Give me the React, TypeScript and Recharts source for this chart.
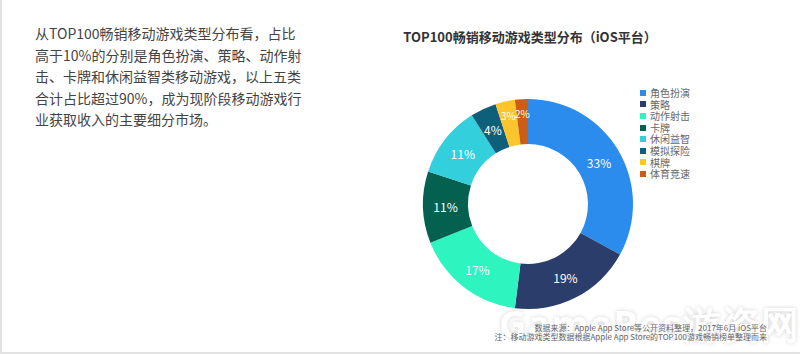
import React from 'react';
import { PieChart, Pie, Cell, Legend } from 'recharts';

const categories = ['角色扮演', '策略', '动作射击', '卡牌', '休闲益智', '模拟探险', '棋牌', '体育竞速'];
const shares = [33, 19, 17, 11, 11, 4, 3, 2];
const colors = ['#2b8ced', '#2b3e6b', '#2ef5c0', '#04614f', '#34cfdc', '#0e5f7a', '#fcc52e', '#cc5d16'];

const introLines = [
    '从TOP100畅销移动游戏类型分布看，占比',
    '高于10%的分别是角色扮演、策略、动作射',
    '击、卡牌和休闲益智类移动游戏，以上五类',
    '合计占比超过90%，成为现阶段移动游戏行',
    '业获取收入的主要细分市场。',
];

const sourceLines = [
    '数据来源：Apple App Store等公开资料整理，2017年6月 iOS平台',
    '注：移动游戏类型数据根据Apple App Store的TOP100游戏畅销榜单整理而来',
];

const data = categories.map((name, i) => ({ name, value: shares[i] }));

const FONT = '"Noto Sans CJK SC", "Noto Sans", sans-serif';
const RAD = Math.PI / 180;

const renderLabel = (props: any) => {
    const { cx, cy, midAngle, innerRadius, outerRadius, value } = props;
    const r = (innerRadius + outerRadius) / 2 + (value < 4 ? 8 : 0);
    const x = cx + r * Math.cos(-midAngle * RAD);
    const y = cy + r * Math.sin(-midAngle * RAD);
    return (
        <text
            x={x}
            y={y}
            fill="#ffffff"
            fontSize={value < 4 ? 10 : 12}
            textAnchor="middle"
            dominantBaseline="central"
            fontFamily={FONT}
        >
            {`${value}%`}
        </text>
    );
};

const renderLegend = () => (
    <div style={{ fontFamily: FONT, fontSize: 10, color: '#666' }}>
        {categories.map((c, i) => (
            <div key={c} style={{ display: 'flex', alignItems: 'center', height: 11.6, lineHeight: '11.6px' }}>
                <span style={{ width: 6, height: 6, background: colors[i], marginRight: 4, display: 'inline-block' }} />
                {c}
            </div>
        ))}
    </div>
);

export default function App() {
    return (
        <div
            style={{
                position: 'fixed',
                left: 0,
                top: 0,
                width: 800,
                height: 354,
                background: '#fff',
                boxSizing: 'border-box',
                borderLeft: '2px solid #e2e2e2',
                borderBottom: '2px solid #e2e2e2',
                fontFamily: FONT,
                overflow: 'hidden',
            }}
        >
            <div style={{ position: 'absolute', left: 33, top: 23, fontSize: 14, lineHeight: '21.5px', color: '#444' }}>
                {introLines.map((l) => (
                    <div key={l}>{l}</div>
                ))}
            </div>
            <div
                style={{
                    position: 'absolute',
                    left: 378,
                    width: 300,
                    top: 27,
                    textAlign: 'center',
                    fontSize: 13,
                    fontWeight: 'bold',
                    color: '#333',
                    whiteSpace: 'nowrap',
                }}
            >
                TOP100畅销移动游戏类型分布（iOS平台）
            </div>
            <div style={{ position: 'absolute', left: 0, top: 0 }}>
                <PieChart width={800} height={354}>
                    <Pie
                        data={data}
                        dataKey="value"
                        nameKey="name"
                        cx={521}
                        cy={199}
                        innerRadius={60}
                        outerRadius={105}
                        startAngle={90}
                        endAngle={-270}
                        stroke="none"
                        label={renderLabel}
                        labelLine={false}
                        isAnimationActive={false}
                    >
                        {data.map((d, i) => (
                            <Cell key={d.name} fill={colors[i]} />
                        ))}
                    </Pie>
                    <Legend
                        content={renderLegend}
                        layout="vertical"
                        wrapperStyle={{ position: 'absolute', left: 638, top: 87, width: 100 }}
                    />
                </PieChart>
            </div>
            <div
                style={{
                    position: 'absolute',
                    left: 497,
                    top: 303,
                    fontSize: 38,
                    lineHeight: '40px',
                    fontWeight: 'bold',
                    color: '#fff',
                    letterSpacing: 1,
                    textShadow: '0 0 4px rgba(0,0,0,0.18)',
                    whiteSpace: 'nowrap',
                    fontFamily: '"Open Sans", sans-serif',
                }}
            >
                GameRes游资网
            </div>
            <div
                style={{
                    position: 'absolute',
                    right: 33,
                    top: 323,
                    fontSize: 8,
                    lineHeight: '9px',
                    color: '#666',
                    textAlign: 'right',
                    whiteSpace: 'nowrap',
                }}
            >
                {sourceLines.map((l) => (
                    <div key={l}>{l}</div>
                ))}
            </div>
        </div>
    );
}
